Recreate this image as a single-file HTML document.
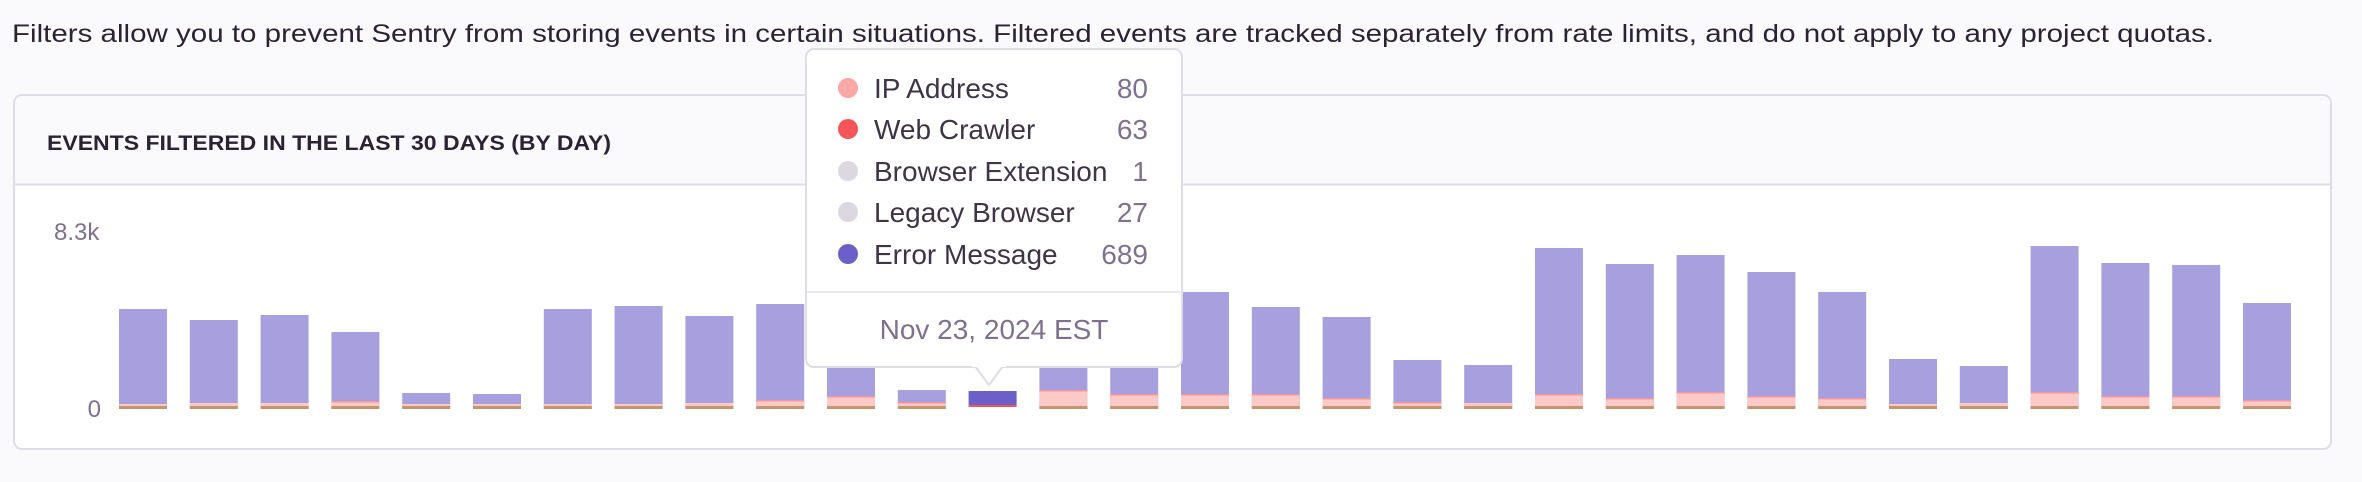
<!DOCTYPE html>
<html><head><meta charset="utf-8"><style>
html,body{margin:0;padding:0;background:#faf9fb;}
svg{display:block;font-family:"Liberation Sans",sans-serif;}
</style></head><body>
<svg width="2362" height="482" viewBox="0 0 2362 482" xmlns="http://www.w3.org/2000/svg">
<rect width="2362" height="482" fill="#faf9fb"/>
<text x="12" y="42" font-size="25" fill="#2b2233" textLength="2202" lengthAdjust="spacingAndGlyphs">Filters allow you to prevent Sentry from storing events in certain situations. Filtered events are tracked separately from rate limits, and do not apply to any project quotas.</text>
<rect x="14" y="95" width="2317" height="354" rx="8" fill="#ffffff" stroke="#e0dce5" stroke-width="2"/>
<path d="M15 184 V103 a8 8 0 0 1 8 -7 H2322 a8 8 0 0 1 8 7 V184 Z" fill="#faf9fb"/>
<line x1="14" y1="184.5" x2="2331" y2="184.5" stroke="#e0dce5" stroke-width="2"/>
<text x="47" y="150" font-size="21" font-weight="bold" fill="#2b2233" textLength="564" lengthAdjust="spacingAndGlyphs">EVENTS FILTERED IN THE LAST 30 DAYS (BY DAY)</text>
<text x="54" y="240" font-size="24" fill="#80708f">8.3k</text>
<text x="101" y="417" font-size="24" fill="#80708f" text-anchor="end">0</text>
<g id="bars"></g>
<g>
<rect x="806" y="49" width="376" height="318" rx="8" fill="#ffffff" stroke="#e0dce5" stroke-width="2"/>
<line x1="807" y1="292" x2="1181" y2="292" stroke="#ebe8ee" stroke-width="2"/>
<path d="M975 366 L989 385 L1003 366 Z" fill="#ffffff" stroke="#e0dce5" stroke-width="2"/>
<rect x="972" y="362" width="34" height="5" fill="#ffffff"/>
<g font-size="28" fill="#3e3446">
<circle cx="848" cy="88" r="10" fill="#f9a8a8"/>
<text x="874" y="98">IP Address</text>
<circle cx="848" cy="129" r="10" fill="#f55459"/>
<text x="874" y="139">Web Crawler</text>
<circle cx="848" cy="171" r="10" fill="#dbd8e2"/>
<text x="874" y="181">Browser Extension</text>
<circle cx="848" cy="212" r="10" fill="#dbd8e2"/>
<text x="874" y="222">Legacy Browser</text>
<circle cx="848" cy="254" r="10" fill="#6c5fc7"/>
<text x="874" y="264">Error Message</text>
</g>
<g font-size="28" fill="#80708f" text-anchor="end">
<text x="1148" y="98">80</text>
<text x="1148" y="139">63</text>
<text x="1148" y="181">1</text>
<text x="1148" y="222">27</text>
<text x="1148" y="264">689</text>
</g>
<text x="994" y="339" font-size="28" fill="#80708f" text-anchor="middle">Nov 23, 2024 EST</text>
</g>
</svg>
<script>
var tops=[309,320,315,332,393,394,309,306,316,304,300,390,391,300,305,292,307,317,360,365,248,264,255,272,292,359,366,246,263,265,303];
var pink=[2,3,3,5,2,2,2,2,3,6,10,4,0,16,12,12,12,8,4,3,12,8,14,10,8,2,3,14,10,10,6];
var g=document.getElementById('bars');var h='';
for(var i=0;i<31;i++){var x=119+i*70.8;var base=409;var p=pink[i];
var purple=i==12?'#6c5fc7':'#a79fde';
if(i==12){h+='<rect x="'+x+'" y="'+tops[i]+'" width="48" height="'+(base-3-tops[i])+'" fill="'+purple+'"/><rect x="'+x+'" y="'+(base-4)+'" width="48" height="2" fill="#f55459"/>';}
else{h+='<rect x="'+x+'" y="'+tops[i]+'" width="48" height="'+(base-tops[i])+'" fill="'+purple+'"/>';
h+='<rect x="'+x+'" y="'+(base-3-p)+'" width="48" height="'+p+'" fill="#fcc9c9"/>';
if(p>3)h+='<rect x="'+x+'" y="'+(base-3-p)+'" width="48" height="1.5" fill="#f4999b"/>';
h+='<rect x="'+x+'" y="'+(base-3)+'" width="48" height="3" fill="#c4956f"/>';}}
g.innerHTML=h;
</script>
</body></html>
